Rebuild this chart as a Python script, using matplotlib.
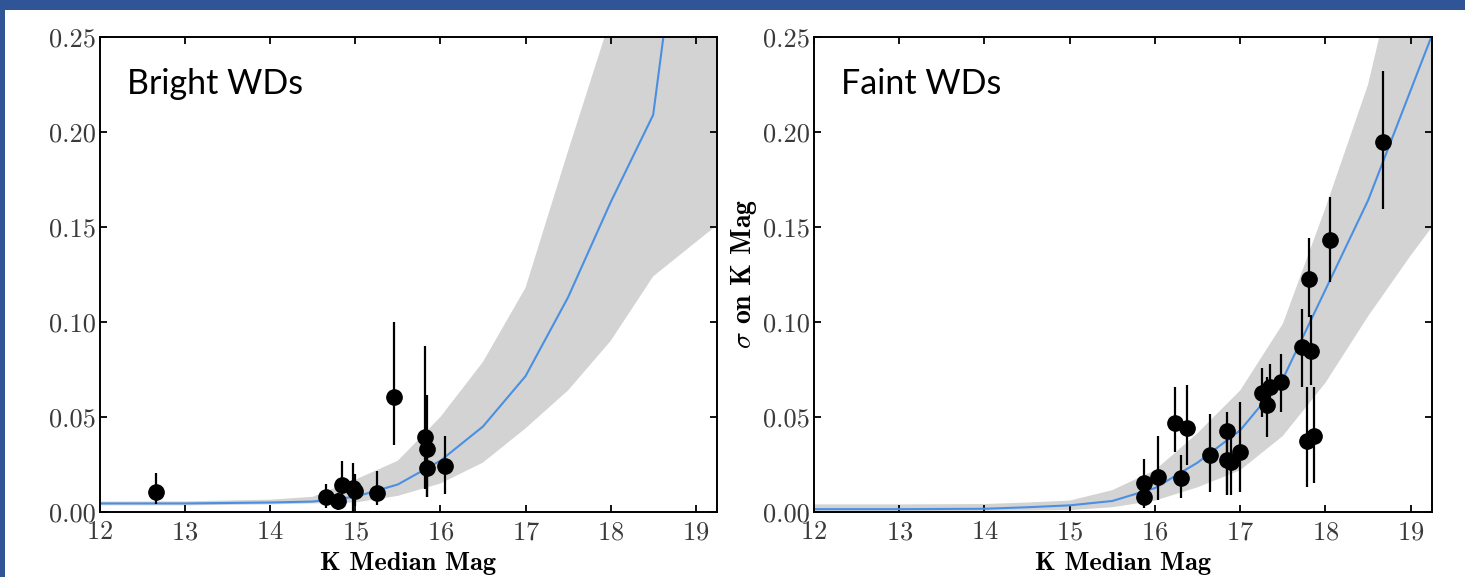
import matplotlib
matplotlib.use("Agg")
import matplotlib.pyplot as plt
from matplotlib.patches import Rectangle
from matplotlib.ticker import FormatStrFormatter
import numpy as np

plt.rcParams['mathtext.fontset'] = 'cm'
plt.rcParams['axes.formatter.use_mathtext'] = True

# model grid (K median mag)
grid = [12, 13, 14, 14.5, 15, 15.5, 16, 16.5, 17, 17.5, 18, 18.5, 19, 19.5]

# bright WDs: model curve and band
bright_line = [0.0045, 0.0045, 0.005, 0.0055, 0.008, 0.0145, 0.027, 0.045, 0.0715, 0.113, 0.163, 0.209, 0.38, 0.55]
bright_upper = [0.0055, 0.0056, 0.0065, 0.008, 0.017, 0.027, 0.050, 0.079, 0.118, 0.19, 0.26, 0.33, 0.40, 0.47]
bright_lower = [0.0035, 0.0035, 0.004, 0.0045, 0.005, 0.0085, 0.015, 0.026, 0.044, 0.064, 0.090, 0.124, 0.142, 0.16]

# faint WDs: model curve and band
faint_line = [0.0015, 0.0015, 0.0017, 0.0025, 0.0035, 0.0058, 0.0126, 0.026, 0.043, 0.070, 0.117, 0.164, 0.222, 0.28]
faint_upper = [0.004, 0.004, 0.0042, 0.005, 0.006, 0.0115, 0.022, 0.0415, 0.064, 0.099, 0.160, 0.225, 0.32, 0.42]
faint_lower = [0.0005, 0.0005, 0.0006, 0.0008, 0.001, 0.0025, 0.006, 0.013, 0.022, 0.040, 0.068, 0.103, 0.135, 0.165]

# bright WDs: measurements (x, sigma, low end, high end of bar)
bright_x = [12.66, 14.65, 14.80, 14.84, 14.97, 15.00, 15.26, 15.46, 15.82, 15.84, 15.84, 16.05]
bright_y = [0.0107, 0.0079, 0.006, 0.014, 0.0126, 0.011, 0.0102, 0.0607, 0.0397, 0.0332, 0.023, 0.0244]
bright_lo = [0.004, 0.002, 0.001, 0.006, 0.000, 0.003, 0.0037, 0.0353, 0.012, 0.008, 0.008, 0.0095]
bright_hi = [0.0205, 0.015, 0.010, 0.027, 0.026, 0.020, 0.0218, 0.100, 0.0874, 0.0616, 0.040, 0.040]

# faint WDs: measurements
faint_x = [15.87, 15.87, 16.04, 16.24, 16.37, 16.30, 16.64, 16.85, 16.84, 16.89, 17.00,
           17.26, 17.31, 17.35, 17.48, 17.72, 17.83, 17.81, 17.78, 17.86, 18.05, 18.68]
faint_y = [0.0151, 0.0081, 0.0183, 0.0467, 0.044, 0.0177, 0.030, 0.0428, 0.0274, 0.0265, 0.0317,
           0.0628, 0.0563, 0.066, 0.0682, 0.0867, 0.0849, 0.1226, 0.0375, 0.040, 0.143, 0.195]
faint_lo = [0.003, 0.002, 0.0063, 0.0317, 0.0247, 0.0073, 0.0107, 0.009, 0.009, 0.009, 0.0107,
            0.050, 0.0396, 0.0554, 0.0528, 0.066, 0.0668, 0.1028, 0.0133, 0.0151, 0.121, 0.1595]
faint_hi = [0.028, 0.012, 0.040, 0.066, 0.067, 0.030, 0.0516, 0.0528, 0.038, 0.040, 0.058,
            0.0756, 0.0712, 0.078, 0.083, 0.107, 0.1037, 0.144, 0.0656, 0.0656, 0.166, 0.232]

W, H = 1465, 577
fig = plt.figure(figsize=(W / 100, H / 100), dpi=100, facecolor='#2F5597')
bg = Rectangle((5 / W, 0), 1 - 5 / W, (H - 10) / H, transform=fig.transFigure,
               facecolor='white', edgecolor='none', zorder=-10)
fig.add_artist(bg)

panels = [
    (100, 717, 'Bright WDs', bright_line, bright_upper, bright_lower, bright_x, bright_y, bright_lo, bright_hi, False),
    (814, 1432, 'Faint WDs', faint_line, faint_upper, faint_lower, faint_x, faint_y, faint_lo, faint_hi, True),
]

for (x0, x1, title, line, upper, lower, px, py, lo, hi, show_ylabel) in panels:
    ax = fig.add_axes([x0 / W, 1 - 512 / H, (x1 - x0) / W, (512 - 37) / H])
    ax.set_facecolor('none')
    ax.fill_between(grid, lower, upper, color='#d3d3d3', lw=0, zorder=1)
    ax.plot(grid, line, color='#4A90E2', lw=1.5, zorder=2)
    py_arr = np.array(py)
    yerr = [py_arr - np.array(lo), np.array(hi) - py_arr]
    ax.errorbar(px, py, yerr=yerr, fmt='o', color='black', ms=11, elinewidth=1.6,
                capsize=0, zorder=3)
    ax.set_xlim(12, 19.25)
    ax.set_ylim(0, 0.25)
    ax.set_xticks([12, 13, 14, 15, 16, 17, 18, 19])
    ax.set_yticks([0, 0.05, 0.10, 0.15, 0.20, 0.25])
    ax.yaxis.set_major_formatter(FormatStrFormatter('%.2f'))
    ax.tick_params(direction='in', top=True, right=True, length=5, width=1.3,
                   labelsize=19, labelcolor='#3a3a3a')
    ax.tick_params(axis='x', pad=6)
    ax.tick_params(axis='y', pad=3)
    for lab in ax.get_xticklabels() + ax.get_yticklabels():
        lab.set_fontfamily('cmr10')
    for s in ax.spines.values():
        s.set_linewidth(1.4)
    ax.set_xlabel('K Median Mag', fontfamily='cmb10', fontsize=19, labelpad=6)
    if show_ylabel:
        ax.set_ylabel(r'$\sigma$ on K Mag', fontfamily='cmb10', fontsize=20, labelpad=3)
    ax.text(0.044, 0.935, title, transform=ax.transAxes, fontfamily='Lato', fontsize=24.5,
            va='top', ha='left')

fig.savefig('out.png', dpi=100, facecolor=fig.get_facecolor())
